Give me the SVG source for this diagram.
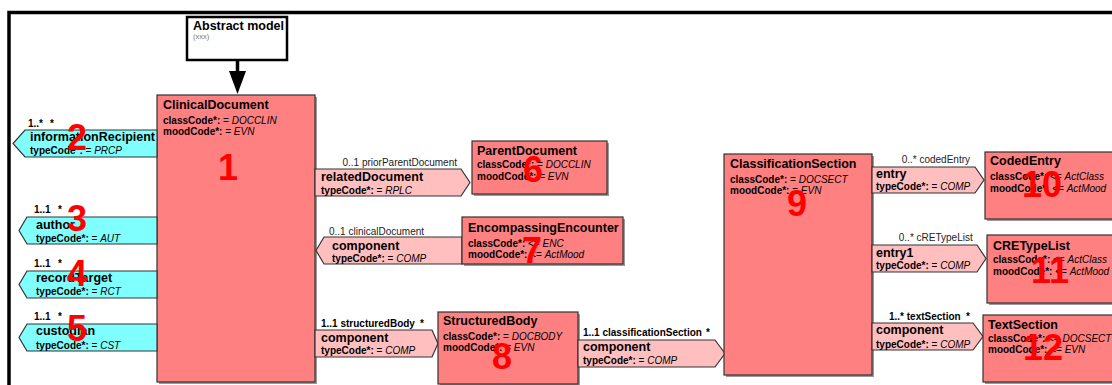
<svg xmlns="http://www.w3.org/2000/svg" width="1112" height="385" viewBox="0 0 1112 385">
<defs>
<style>
text{font-family:"Liberation Sans",Arial,sans-serif;fill:#000}
.cls{fill:#FF8080;stroke:#333;stroke-width:1.2}
.shd{fill:#999}
.cyan{fill:#80FFFF;stroke:#333;stroke-width:1.2}
.pink{fill:#FFBFBF;stroke:#333;stroke-width:1.2}
.nm{font-size:12.5px;font-weight:bold}
.at{font-size:10px}
.at .b{font-weight:bold}
.at .i{font-style:italic}
.mu{font-size:10px;fill:#222}
.mb{font-size:10px;font-weight:bold}
.num{font-size:36px;font-weight:bold;fill:#FF0000;text-anchor:middle}
</style>
</defs>
<rect width="1112" height="385" fill="#fff"/>
<path d="M9,385 V12.5 H1112" fill="none" stroke="#000" stroke-width="3.5"/>

<g id="abstract-model">
<rect x="187" y="17" width="100" height="43" fill="#fff" stroke="#000" stroke-width="2.5"/>
<text x="193" y="30" class="nm">Abstract model</text>
<text x="193" y="39" style="font-size:7.5px;fill:#777">(xxx)</text>
</g>

<g id="connectors">
<line x1="237.5" y1="60" x2="237.5" y2="72" stroke="#000" stroke-width="3.5"/>
<polygon points="229,71 246,71 237.5,94" fill="#000"/>
</g>

<g id="n1-ClinicalDocument">
<rect x="159" y="97" width="158" height="287" class="shd"/>
<rect x="157" y="95" width="158" height="287" class="cls"/>
<text x="163" y="109" class="nm">ClinicalDocument</text>
<text x="163" y="124" class="at"><tspan class="b">classCode*:</tspan> = <tspan class="i">DOCCLIN</tspan></text>
<text x="163" y="135" class="at"><tspan class="b">moodCode*:</tspan> = <tspan class="i">EVN</tspan></text>
<text x="228" y="180" class="num">1</text>
</g>

<g id="n2-informationRecipient">
<polygon points="157,130 25,130 13,143.5 25,157 157,157" class="cyan"/>
<text y="127" class="mb"><tspan x="28">1..*</tspan><tspan x="50">*</tspan></text>
<text x="30" y="141" class="nm">informationRecipient</text>
<text x="30" y="154" class="at"><tspan class="b">typeCode*:</tspan> = <tspan class="i">PRCP</tspan></text>
<text x="77" y="150" class="num">2</text>
</g>

<g id="n3-author">
<polygon points="157,217 27,217 19,230.5 27,244 157,244" class="cyan"/>
<text y="213" class="mb"><tspan x="34">1..1</tspan><tspan x="58">*</tspan></text>
<text x="36" y="229" class="nm">author</text>
<text x="36" y="241.5" class="at"><tspan class="b">typeCode*:</tspan> = <tspan class="i">AUT</tspan></text>
<text x="77" y="231" class="num">3</text>
</g>

<g id="n4-recordTarget">
<polygon points="157,271 27,271 19,284.5 27,298 157,298" class="cyan"/>
<text y="266.5" class="mb"><tspan x="34">1..1</tspan><tspan x="58">*</tspan></text>
<text x="36" y="282" class="nm">recordTarget</text>
<text x="36" y="295" class="at"><tspan class="b">typeCode*:</tspan> = <tspan class="i">RCT</tspan></text>
<text x="77" y="286" class="num">4</text>
</g>

<g id="n5-custodian">
<polygon points="157,324 27,324 19,337.5 27,351 157,351" class="cyan"/>
<text y="320" class="mb"><tspan x="34">1..1</tspan><tspan x="58">*</tspan></text>
<text x="36" y="335" class="nm">custodian</text>
<text x="36" y="348.5" class="at"><tspan class="b">typeCode*:</tspan> = <tspan class="i">CST</tspan></text>
<text x="77" y="341" class="num">5</text>
</g>

<g id="relatedDocument">
<polygon points="315,169 461,169 470,182.5 461,196 315,196" class="pink"/>
<text x="457" y="166" class="mu" text-anchor="end">0..1 priorParentDocument</text>
<text x="321" y="181" class="nm">relatedDocument</text>
<text x="321" y="194" class="at"><tspan class="b">typeCode*:</tspan> = <tspan class="i">RPLC</tspan></text>
</g>

<g id="n6-ParentDocument">
<rect x="474" y="143" width="135" height="53" class="shd"/>
<rect x="472" y="141" width="135" height="53" class="cls"/>
<text x="477" y="155" class="nm">ParentDocument</text>
<text x="477" y="168" class="at"><tspan class="b">classCode*:</tspan> = <tspan class="i">DOCCLIN</tspan></text>
<text x="477" y="180" class="at"><tspan class="b">moodCode*:</tspan> = <tspan class="i">EVN</tspan></text>
<text x="533" y="182" class="num">6</text>
</g>

<g id="component-clinicalDocument">
<polygon points="462,237 324,237 316,250.5 324,264 462,264" class="pink"/>
<text x="329" y="235" class="mu">0..1 clinicalDocument</text>
<text x="332" y="249.5" class="nm">component</text>
<text x="332" y="262" class="at"><tspan class="b">typeCode*:</tspan> = <tspan class="i">COMP</tspan></text>
</g>

<g id="n7-EncompassingEncounter">
<rect x="464" y="219" width="161" height="47" class="shd"/>
<rect x="462" y="217" width="161" height="47" class="cls"/>
<text x="468" y="232" class="nm">EncompassingEncounter</text>
<text x="468" y="246.5" class="at"><tspan class="b">classCode*:</tspan> &lt;= <tspan class="i">ENC</tspan></text>
<text x="468" y="258" class="at"><tspan class="b">moodCode*:</tspan> &lt;= <tspan class="i">ActMood</tspan></text>
<text x="532" y="263" class="num">7</text>
</g>

<g id="component-structuredBody">
<polygon points="315,330 432,330 438,343.5 432,357 315,357" class="pink"/>
<text y="326.5" class="mb"><tspan x="321">1..1 structuredBody</tspan><tspan x="420">*</tspan></text>
<text x="321" y="341.5" class="nm">component</text>
<text x="321" y="354" class="at"><tspan class="b">typeCode*:</tspan> = <tspan class="i">COMP</tspan></text>
</g>

<g id="n8-StructuredBody">
<rect x="440" y="314" width="140" height="72" class="shd"/>
<rect x="438" y="312" width="140" height="72" class="cls"/>
<text x="443" y="325" class="nm">StructuredBody</text>
<text x="443" y="340" class="at"><tspan class="b">classCode*:</tspan> = <tspan class="i">DOCBODY</tspan></text>
<text x="443" y="351" class="at"><tspan class="b">moodCode*:</tspan> = <tspan class="i">EVN</tspan></text>
<text x="502" y="369" class="num">8</text>
</g>

<g id="component-classificationSection">
<polygon points="578,340 715,340 725,353.5 715,367 578,367" class="pink"/>
<text y="336" class="mb"><tspan x="583">1..1 classificationSection</tspan><tspan x="706">*</tspan></text>
<text x="583" y="351" class="nm">component</text>
<text x="583" y="364" class="at"><tspan class="b">typeCode*:</tspan> = <tspan class="i">COMP</tspan></text>
</g>

<g id="n9-ClassificationSection">
<rect x="726" y="156" width="148" height="221" class="shd"/>
<rect x="724" y="154" width="148" height="221" class="cls"/>
<text x="730" y="167.5" class="nm">ClassificationSection</text>
<text x="730" y="183" class="at"><tspan class="b">classCode*:</tspan> = <tspan class="i">DOCSECT</tspan></text>
<text x="730" y="194" class="at"><tspan class="b">moodCode*:</tspan> = <tspan class="i">EVN</tspan></text>
<text x="797" y="216" class="num">9</text>
</g>

<g id="entry-codedEntry">
<polygon points="872,167 975,167 984,180 975,193 872,193" class="pink"/>
<text x="970" y="162.7" class="mu" text-anchor="end">0..* codedEntry</text>
<text x="876" y="177.5" class="nm">entry</text>
<text x="876" y="190" class="at"><tspan class="b">typeCode*:</tspan> = <tspan class="i">COMP</tspan></text>
</g>

<g id="n10-CodedEntry">
<rect x="987" y="154" width="140" height="67" class="shd"/>
<rect x="985" y="152" width="140" height="67" class="cls"/>
<text x="990" y="165" class="nm">CodedEntry</text>
<text x="990" y="180" class="at"><tspan class="b">classCode*:</tspan> &lt;= <tspan class="i">ActClass</tspan></text>
<text x="990" y="191.5" class="at"><tspan class="b">moodCode*:</tspan> &lt;= <tspan class="i">ActMood</tspan></text>
<text x="1042" y="197" class="num">10</text>
</g>

<g id="entry1-cRETypeList">
<polygon points="872,245 977,245 986,258.5 977,272 872,272" class="pink"/>
<text x="972.7" y="240.7" class="mu" text-anchor="end">0..* cRETypeList</text>
<text x="876" y="256.5" class="nm">entry1</text>
<text x="876" y="269" class="at"><tspan class="b">typeCode*:</tspan> = <tspan class="i">COMP</tspan></text>
</g>

<g id="n11-CRETypeList">
<rect x="989" y="237" width="140" height="68" class="shd"/>
<rect x="987" y="235" width="140" height="68" class="cls"/>
<text x="993" y="249.5" class="nm">CRETypeList</text>
<text x="993" y="263" class="at"><tspan class="b">classCode*:</tspan> &lt;= <tspan class="i">ActClass</tspan></text>
<text x="993" y="275" class="at"><tspan class="b">moodCode*:</tspan> &lt;= <tspan class="i">ActMood</tspan></text>
<text x="1050" y="283" class="num">11</text>
</g>

<g id="component-textSection">
<polygon points="872,323 973,323 983,336.5 973,350 872,350" class="pink"/>
<text y="320" class="mb"><tspan x="889">1..* textSection</tspan><tspan x="966">*</tspan></text>
<text x="876" y="334" class="nm">component</text>
<text x="876" y="348" class="at"><tspan class="b">typeCode*:</tspan> = <tspan class="i">COMP</tspan></text>
</g>

<g id="n12-TextSection">
<rect x="985" y="317" width="140" height="67" class="shd"/>
<rect x="983" y="315" width="140" height="67" class="cls"/>
<text x="988" y="328.5" class="nm">TextSection</text>
<text x="988" y="341.5" class="at"><tspan class="b">classCode*:</tspan> &lt;= <tspan class="i">DOCSECT</tspan></text>
<text x="988" y="353" class="at"><tspan class="b">moodCode*:</tspan> &lt;= <tspan class="i">EVN</tspan></text>
<text x="1043" y="360" class="num">12</text>
</g>
</svg>
